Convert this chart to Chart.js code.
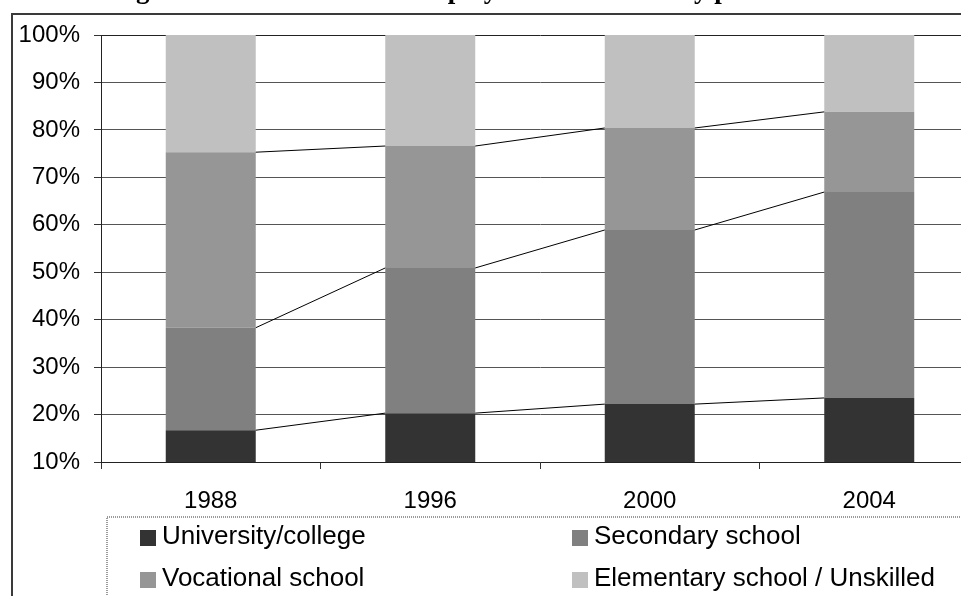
<!DOCTYPE html>
<html>
<head>
<meta charset="utf-8">
<script src="https://cdn.jsdelivr.net/npm/chart.js@4.4.1/dist/chart.umd.min.js"></script>
<style>
  html, body { margin: 0; padding: 0; overflow: hidden; background: #fff; }
  #wrap { width: 1000px; height: 596px; }
</style>
</head>
<body>
<div id="wrap"><canvas id="chart" width="1000" height="596"></canvas></div>
<script>
// ******************************************************** DATA

var years = ["1988", "1996", "2000", "2004"];
var university = [16.7, 20.3, 22.2, 23.5];
var secondary  = [21.6, 30.6, 36.7, 43.4];
var vocational = [37.0, 25.7, 21.5, 16.9];
var elementary = [24.7, 23.4, 19.6, 16.2];
var yTicks = [10, 20, 30, 40, 50, 60, 70, 80, 90, 100];
var seriesNames = ["University/college", "Secondary school", "Vocational school", "Elementary school / Unskilled"];
var seriesColors = ["#333333", "#808080", "#969696", "#c0c0c0"];
var titleText = "Figure 1: Structure of the employed labour force by profession";

// ******************************************************** PLUGINS

var sans = "'Liberation Sans', Arial, sans-serif";

// chart frame + legend box (drawn under everything)
var framePlugin = {
  id: 'frame',
  beforeDraw: function (chart) {
    var ctx = chart.ctx;
    ctx.save();
    ctx.fillStyle = '#fff';
    ctx.fillRect(0, 0, chart.width, chart.height);
    // outer chart border, runs off the right and bottom edges
    ctx.strokeStyle = '#3a3a3a';
    ctx.lineWidth = 2;
    ctx.strokeRect(12, 14, chart.width + 20, chart.height + 20);
    // legend box
    ctx.strokeStyle = '#9a9a9a';
    ctx.setLineDash([1, 1]);
    ctx.strokeRect(107, 517, chart.width + 20, chart.height);
    ctx.restore();
  }
};

// Excel style series lines between the stacked segments
var seriesLines = {
  id: 'seriesLines',
  afterDatasetsDraw: function (chart) {
    var ctx = chart.ctx;
    ctx.save();
    ctx.strokeStyle = '#000';
    ctx.lineWidth = 1;
    for (var d = 0; d < chart.data.datasets.length - 1; d++) {
      var bars = chart.getDatasetMeta(d).data;
      for (var i = 0; i < bars.length - 1; i++) {
        var a = bars[i], b = bars[i + 1];
        ctx.beginPath();
        ctx.moveTo(a.x + a.width / 2, a.y);
        ctx.lineTo(b.x - b.width / 2, b.y);
        ctx.stroke();
      }
    }
    ctx.restore();
  }
};

// legend (2 x 2 grid) and the cropped title
var legendPlugin = {
  id: 'legendGrid',
  afterDraw: function (chart) {
    var ctx = chart.ctx;
    var cols = [140, 572], rows = [530, 572];
    ctx.save();
    ctx.font = '26px ' + sans;
    ctx.textBaseline = 'alphabetic';
    ctx.textAlign = 'left';
    chart.data.datasets.forEach(function (ds, i) {
      var x = cols[i % 2], y = rows[Math.floor(i / 2)];
      ctx.fillStyle = ds.backgroundColor;
      ctx.fillRect(x, y, 16, 16);
      ctx.fillStyle = '#000';
      ctx.fillText(ds.label, x + 22, y + 14);
    });
    ctx.font = "bold 27px 'Liberation Serif', 'Times New Roman', serif";
    ctx.fillText(titleText, 112, -2);
    ctx.restore();
  }
};

// ******************************************************** CHART

var datasets = [university, secondary, vocational, elementary].map(function (vals, i) {
  return {
    label: seriesNames[i],
    data: vals,
    backgroundColor: seriesColors[i],
    borderWidth: 0,
    barPercentage: 0.41,
    categoryPercentage: 1.0
  };
});

new Chart(document.getElementById('chart').getContext('2d'), {
  type: 'bar',
  data: { labels: years, datasets: datasets },
  options: {
    responsive: false,
    animation: false,
    devicePixelRatio: 1,
    layout: { padding: { top: 35, left: 0, right: 21, bottom: 0 } },
    plugins: {
      legend: { display: false },
      tooltip: { enabled: false },
      title: { display: false }
    },
    scales: {
      x: {
        stacked: true,
        afterFit: function (scale) { scale.height = 134; },
        grid: {
          offset: true,
          drawOnChartArea: false,
          drawTicks: true,
          tickLength: 7,
          tickColor: '#333'
        },
        border: { color: '#222', width: 1 },
        ticks: { color: '#000', font: { family: sans, size: 24 }, padding: 18, maxRotation: 0 }
      },
      y: {
        stacked: true,
        min: 10,
        max: 100,
        afterFit: function (scale) { scale.width = 101; },
        afterBuildTicks: function (scale) {
          scale.ticks = yTicks.map(function (v) { return { value: v }; });
        },
        grid: {
          color: function (c) { return c.tick && c.tick.value === 100 ? '#222' : '#555'; },
          lineWidth: 1,
          tickLength: 7,
          tickColor: '#333'
        },
        border: { color: '#222', width: 1 },
        ticks: {
          color: '#000',
          font: { family: sans, size: 24 },
          padding: 14,
          callback: function (v) { return v + '%'; }
        }
      }
    }
  },
  plugins: [framePlugin, seriesLines, legendPlugin]
});
</script>
</body>
</html>
